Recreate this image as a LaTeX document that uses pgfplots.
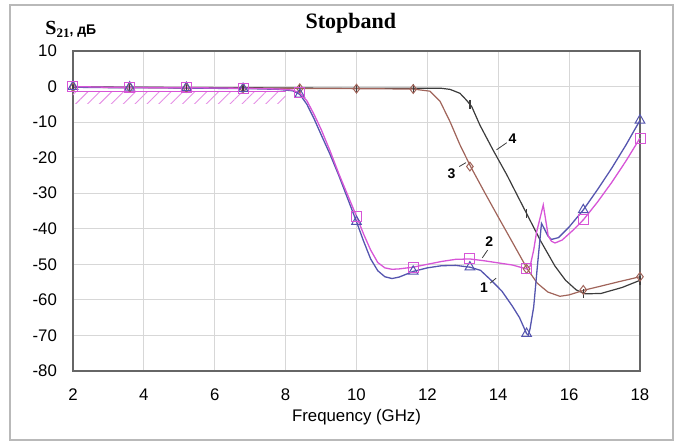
\documentclass[border=0pt]{standalone}
\usepackage{pgfplots}
\pgfplotsset{compat=1.18}
\usepackage{fontspec}
\setmainfont{Liberation Sans}
\newfontfamily\tnr{Liberation Serif}
\usetikzlibrary{patterns.meta}

\definecolor{blueC}{RGB}{85,85,175}
\definecolor{pinkC}{RGB}{215,85,215}
\definecolor{brownC}{RGB}{160,100,90}
\definecolor{blackC}{RGB}{60,60,60}
\definecolor{gridC}{RGB}{215,215,215}

% S21 curves
\pgfplotstableread{
x y
2 -0.2
3 -0.3
4 -0.3
5 -0.4
6 -0.5
7 -0.6
7.8 -0.8
8.2 -1.2
8.4 -2.2
8.6 -5
8.8 -9
9.0 -13.5
9.25 -19
9.5 -25
9.75 -31.5
10.0 -38
10.2 -43.5
10.4 -48.5
10.6 -51.8
10.8 -53.5
11.0 -54
11.2 -53.6
11.4 -52.8
11.6 -52
12.0 -51
12.4 -50.4
12.8 -50.3
13.2 -50.8
13.5 -51.7
13.8 -54.5
14.1 -57.5
14.4 -61.8
14.6 -65
14.8 -69.5
14.85 -70
14.9 -68
15.0 -62
15.1 -51
15.22 -38.5
15.3 -40
15.4 -42
15.5 -43
15.7 -42.5
16.0 -39.5
16.4 -34.7
16.8 -29
17.2 -23
17.6 -16.5
18 -9.5
}\curveA
\pgfplotstableread{
x y
2 0
3 -0.2
4 -0.3
5 -0.3
6 -0.4
7 -0.5
7.8 -0.7
8.2 -1
8.4 -1.8
8.6 -4
8.8 -7.8
9.0 -12
9.25 -18
9.5 -24.5
9.75 -30.5
10.0 -36.5
10.2 -41.5
10.4 -46
10.6 -49.5
10.8 -51
11.0 -51.4
11.2 -51.3
11.6 -50.8
12.0 -50
12.4 -49.2
12.8 -48.6
13.2 -48.5
13.6 -49
14.0 -49.6
14.4 -50.2
14.8 -51.3
14.9 -50.5
15.0 -46
15.08 -41
15.18 -37
15.27 -33.3
15.33 -37
15.41 -42
15.5 -43.5
15.6 -44
15.8 -43.2
16.1 -40.5
16.4 -37.5
16.8 -32.5
17.2 -27
17.6 -21
18 -14.5
}\curveB
\pgfplotstableread{
x y
2 -0.2
4 -0.3
6 -0.5
8 -0.5
10 -0.6
11.6 -0.7
12.07 -1.3
12.36 -4.2
12.64 -9.9
12.92 -16.4
13.22 -22.5
13.6 -29.5
14.0 -36.7
14.4 -43.8
14.82 -51.3
15.1 -55.3
15.4 -57.8
15.74 -59
16.0 -58.6
16.45 -57.2
16.87 -56.2
17.4 -54.9
18 -53.5
}\curveC
\pgfplotstableread{
x y
2 -0.1
4 -0.2
6 -0.3
8 -0.4
10 -0.5
12 -0.5
12.4 -0.5
12.64 -0.8
12.92 -1.9
13.1 -3.8
13.25 -5.6
13.48 -10.8
13.85 -17.8
14.24 -24.8
14.84 -36.5
15.2 -43.5
15.6 -50.5
15.9 -54.5
16.2 -57.2
16.45 -58.3
16.9 -58.2
17.5 -56.5
18 -54.5
}\curveD

\begin{document}
\begin{tikzpicture}
\begin{axis}[
  width=283.5pt, height=160pt, scale only axis,
  xmin=2, xmax=18, ymin=-80, ymax=10,
  xtick={2,4,...,18}, ytick={-80,-70,...,10},
  grid=major, major grid style={gridC, line width=0.5pt},
  axis line style={gray!80!black, line width=0.6pt},
  tick style={draw=none},
  ticklabel style={font=\fontsize{8.4}{10}\selectfont},
  /pgf/number format/assume math mode=true,
  yticklabel style={xshift=-4.5pt},
  xticklabel style={yshift=-5.5pt},
  xlabel={Frequency (GHz)},
  xlabel style={at={(axis description cs:0.5,0)}, anchor=center, yshift=-23pt, font=\fontsize{8.4}{10}\selectfont},
  title={Stopband},
  title style={at={(axis description cs:0.49,1)}, anchor=base, yshift=5pt, font=\tnr\bfseries\fontsize{11}{13}\selectfont},
  clip=false,
]
% outer frame and page extent
\path ([xshift=-36.5pt,yshift=-35pt]rel axis cs:0,0) rectangle ([xshift=17.5pt,yshift=25.5pt]rel axis cs:1,1);
\draw[gray!55, line width=1pt] ([xshift=-31.5pt,yshift=-34.5pt]rel axis cs:0,0) rectangle ([xshift=16.5pt,yshift=23pt]rel axis cs:1,1);

% passband mask
\addplot[draw=none, pattern={Lines[angle=45, distance=4.2pt, line width=0.45pt]}, pattern color=pinkC!65] coordinates {(2,-1.5) (8,-1.5) (8,-4.7) (2,-4.7)} -- cycle;
\addplot[pinkC, line width=0.6pt] coordinates {(2,-1.5) (8,-1.5)};

\addplot[blackC, line width=0.6pt] table {\curveD};
\addplot[brownC, line width=0.6pt] table {\curveC};
\addplot[blueC, line width=0.65pt] table {\curveA};
\addplot[pinkC, line width=0.65pt] table {\curveB};

\addplot[only marks, blackC, mark=|, mark size=2.2pt, mark options={line width=0.6pt}] coordinates {
(2,-0.1) (3.6,-0.2) (5.2,-0.2) (6.8,-0.3) (8.4,-0.4) (10,-0.5) (11.6,-0.5) (13.2,-5) (14.8,-35.8) (16.4,-58.2) (18,-54.5)};
\addplot[only marks, brownC, mark=diamond, mark size=2.2pt, mark options={line width=0.5pt}] coordinates {
(2,-0.2) (3.6,-0.3) (5.2,-0.4) (6.8,-0.5) (8.4,-0.5) (10,-0.6) (11.6,-0.7) (13.2,-22.5) (14.8,-51.3) (16.4,-57.2) (18,-53.5)};
\addplot[only marks, blueC, mark=triangle, mark size=2.8pt, mark options={line width=0.5pt}] coordinates {
(2,0) (3.6,-0.2) (5.2,-0.3) (6.8,-0.6) (8.4,-2.2) (10,-38) (11.6,-52) (13.2,-50.8) (14.8,-69.5) (16.4,-34.7) (18,-9.5)};
\addplot[only marks, pinkC, mark=square, mark size=2.5pt, mark options={line width=0.5pt}] coordinates {
(2,0) (3.6,-0.2) (5.2,-0.3) (6.8,-0.6) (8.4,-1.8) (10,-36.5) (11.6,-50.8) (13.2,-48.5) (14.8,-51.3) (16.4,-37.5) (18,-14.5)};

% curve numbers
\draw[blackC, line width=0.4pt] (axis cs:13.77,-55.3) -- (axis cs:13.94,-53.9);
\draw[blackC, line width=0.4pt] (axis cs:13.7,-46) -- (axis cs:13.55,-48.2);
\draw[blackC, line width=0.4pt] (axis cs:12.9,-22.5) -- (axis cs:13.09,-21.4);
\draw[blackC, line width=0.4pt] (axis cs:14.24,-15.8) -- (axis cs:13.95,-17.8);
\node[font=\bfseries\fontsize{7}{8}\selectfont] at (axis cs:13.6,-56.6) {1};
\node[font=\bfseries\fontsize{7}{8}\selectfont] at (axis cs:13.75,-43.6) {2};
\node[font=\bfseries\fontsize{7}{8}\selectfont] at (axis cs:12.68,-24.4) {3};
\node[font=\bfseries\fontsize{7}{8}\selectfont] at (axis cs:14.4,-14.7) {4};

% y axis label
\node[anchor=base west, inner sep=0pt] at ([xshift=-14pt,yshift=8pt]rel axis cs:0,1)
  {{\tnr\bfseries\fontsize{10}{12}\selectfont S}{\tnr\bfseries\fontsize{6.5}{8}\selectfont\raisebox{-1.3pt}{21}}{\bfseries\fontsize{7}{8}\selectfont, дБ}};
\end{axis}
\end{tikzpicture}
\end{document}
